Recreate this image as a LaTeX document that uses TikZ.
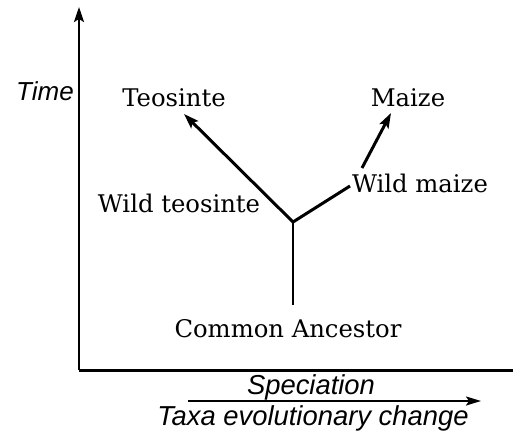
\documentclass[tikz,border=0pt]{standalone}
\usepackage{fontspec}
\setmainfont{DejaVu Serif}
\newfontfamily\axisfont{Liberation Sans}
\usetikzlibrary{arrows.meta}
\begin{document}
\begin{tikzpicture}[x=1pt,y=-1pt,
  lbl/.style={inner sep=0pt,anchor=base,font=\fontsize{24.3}{27}\selectfont},
  axlbl/.style={inner sep=0pt,anchor=base,font=\axisfont\itshape\fontsize{27.4}{30}\selectfont},
  tip/.style={-{Stealth[length=15pt,width=10pt,inset=3pt]}},
  branch/.style={line width=3pt}]
\useasboundingbox (0,0) rectangle (520,434);
% axes
\coordinate (origin) at (79,370);
\coordinate (ytop) at (79,7);
\coordinate (xend) at (513,370);
\draw[line width=2.2pt,tip] (origin) -- (ytop);
\draw[line width=3pt] (origin) -- (xend);
% axis labels
\node[axlbl,font=\axisfont\itshape\fontsize{26}{29}\selectfont] (time) at (45,100) {Time};
\node[axlbl] (spec) at (311,394) {Speciation};
\node[axlbl] (taxa) at (313,425) {Taxa evolutionary change};
\coordinate (ta0) at (188,401);
\coordinate (ta1) at (481,401);
\draw[line width=2pt,-{Stealth[length=15pt,width=9pt,inset=3pt]}] (ta0) -- (ta1);
% tree
\coordinate (j) at (293,222);
\coordinate (ca) at (293,305);
\node[lbl] (teo) at (174,106) {Teosinte};
\node[lbl] (maize) at (408,106) {Maize};
\node[lbl] (wteo) at (179,212) {Wild teosinte};
\node[lbl] (wmaize) at (420,192) {Wild maize};
\node[lbl] (anc) at (288,337) {Common Ancestor};
\coordinate (teotip) at (184,114);
\coordinate (wm0) at (350,186);
\coordinate (wm1) at (362,168);
\coordinate (mztip) at (391,113);
\draw[line width=2.2pt] (ca) -- (j);
\draw[branch,tip] (j) -- (teotip);
\draw[branch] (j) -- (wm0);
\draw[branch,tip] (wm1) -- (mztip);
\end{tikzpicture}
\end{document}
